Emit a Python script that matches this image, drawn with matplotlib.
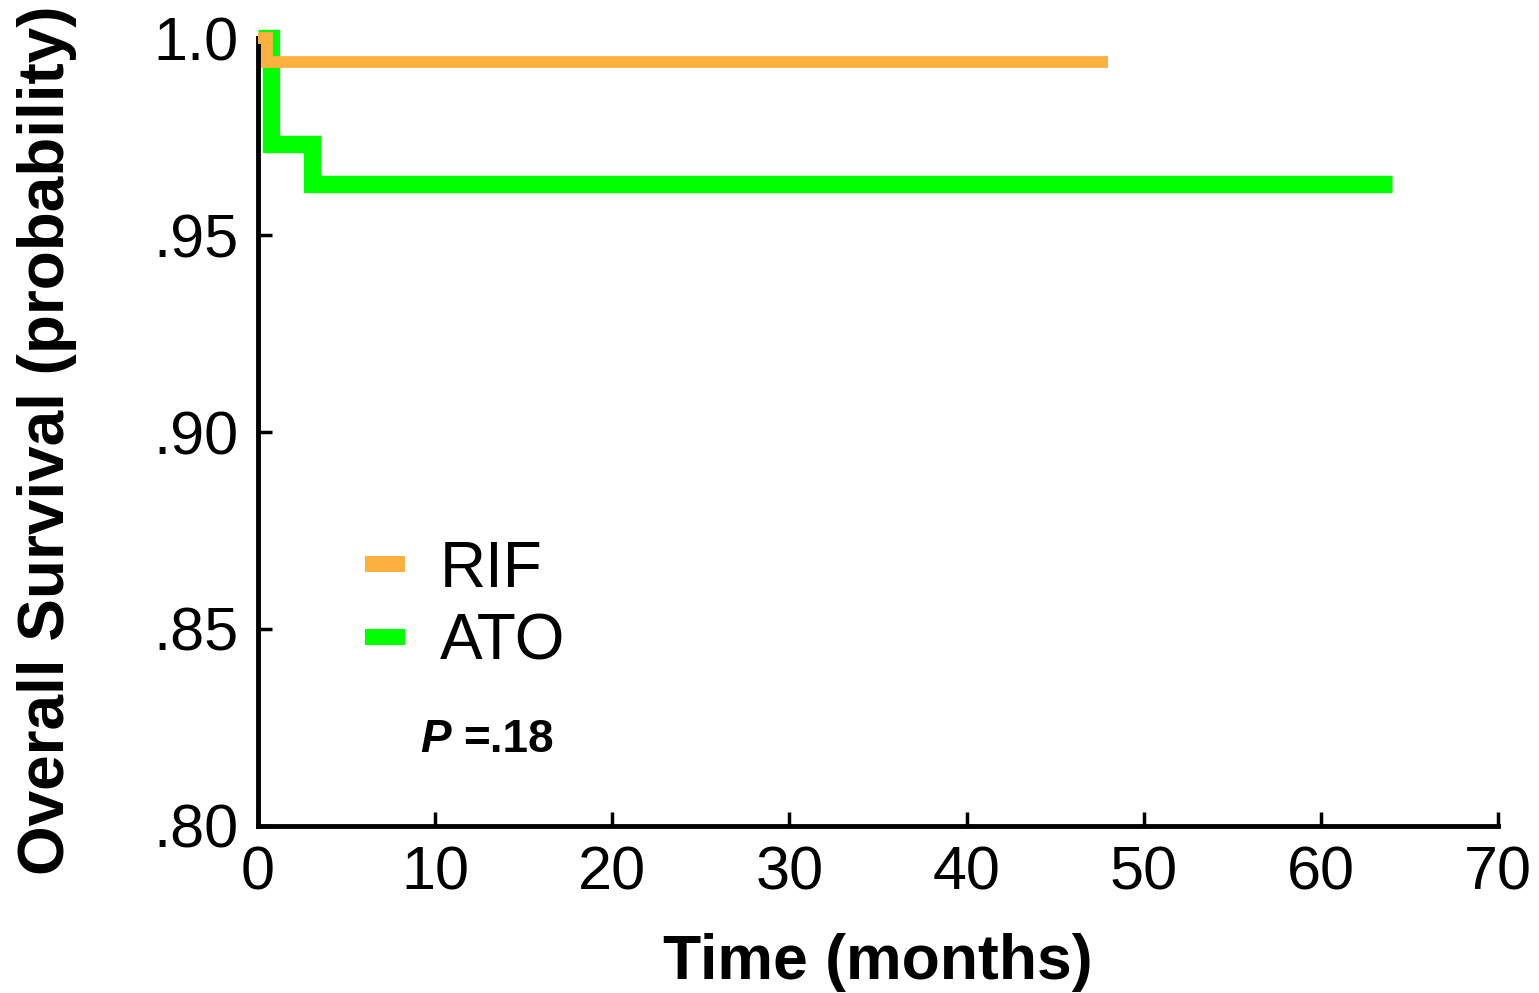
import matplotlib.pyplot as plt

# Kaplan-Meier curves (step, post)
rif_time = [0, 0.5, 48.0]
rif_surv = [1.0, 0.9938, 0.9938]
ato_time = [0, 0.75, 3.05, 64.0]
ato_surv = [1.0, 0.9731, 0.9629, 0.9629]

x_ticks = [0, 10, 20, 30, 40, 50, 60, 70]
y_ticks = [0.80, 0.85, 0.90, 0.95, 1.0]
y_labels = [".80", ".85", ".90", ".95", "1.0"]

plt.rcParams['font.family'] = ['Liberation Sans', 'DejaVu Sans']

fig = plt.figure(figsize=(15.39, 9.93), dpi=100)
ax = fig.add_axes([0.1676, 0.1682, 0.8058, 0.7935])

l1, = ax.step(rif_time, rif_surv, where='post', color='#FBB040', lw=8.5,
              solid_capstyle='butt', solid_joinstyle='miter', clip_on=False, zorder=3, label='RIF')
l2, = ax.step(ato_time, ato_surv, where='post', color='#00FF00', lw=12.5,
              solid_capstyle='butt', solid_joinstyle='miter', clip_on=False, zorder=2, label='ATO')

ax.set_xlim(0, 70)
ax.set_ylim(0.80, 1.0)
ax.set_xticks(x_ticks)
ax.set_yticks(y_ticks)
ax.set_yticklabels(y_labels)

for s in ['top', 'right']:
    ax.spines[s].set_visible(False)
for s in ['left', 'bottom']:
    ax.spines[s].set_linewidth(3.5)
ax.tick_params(direction='in', length=10, width=2.5, labelsize=44, pad=14)

ax.set_xlabel('Time (months)', fontsize=45, fontweight='bold', labelpad=22)
ax.set_ylabel('Overall Survival (probability)', fontsize=46, fontweight='bold')
ax.yaxis.set_label_coords(-0.146, 0.49)

leg = ax.legend(handles=[l1, l2], loc='center left', bbox_to_anchor=(0.0863, 0.279),
                frameon=False, fontsize=46, handlelength=0.62, handletextpad=0.55,
                labelspacing=0.2, borderpad=0, borderaxespad=0)
for h in leg.get_lines():
    h.set_linewidth(11.5)

ax.text(0.1306, 0.094, 'P', transform=ax.transAxes, fontsize=33, fontweight='bold',
        fontstyle='italic', va='baseline', ha='left')
ax.text(0.1653, 0.094, '=.18', transform=ax.transAxes, fontsize=33, fontweight='bold',
        va='baseline', ha='left')

fig.savefig('out.png', dpi=100)
